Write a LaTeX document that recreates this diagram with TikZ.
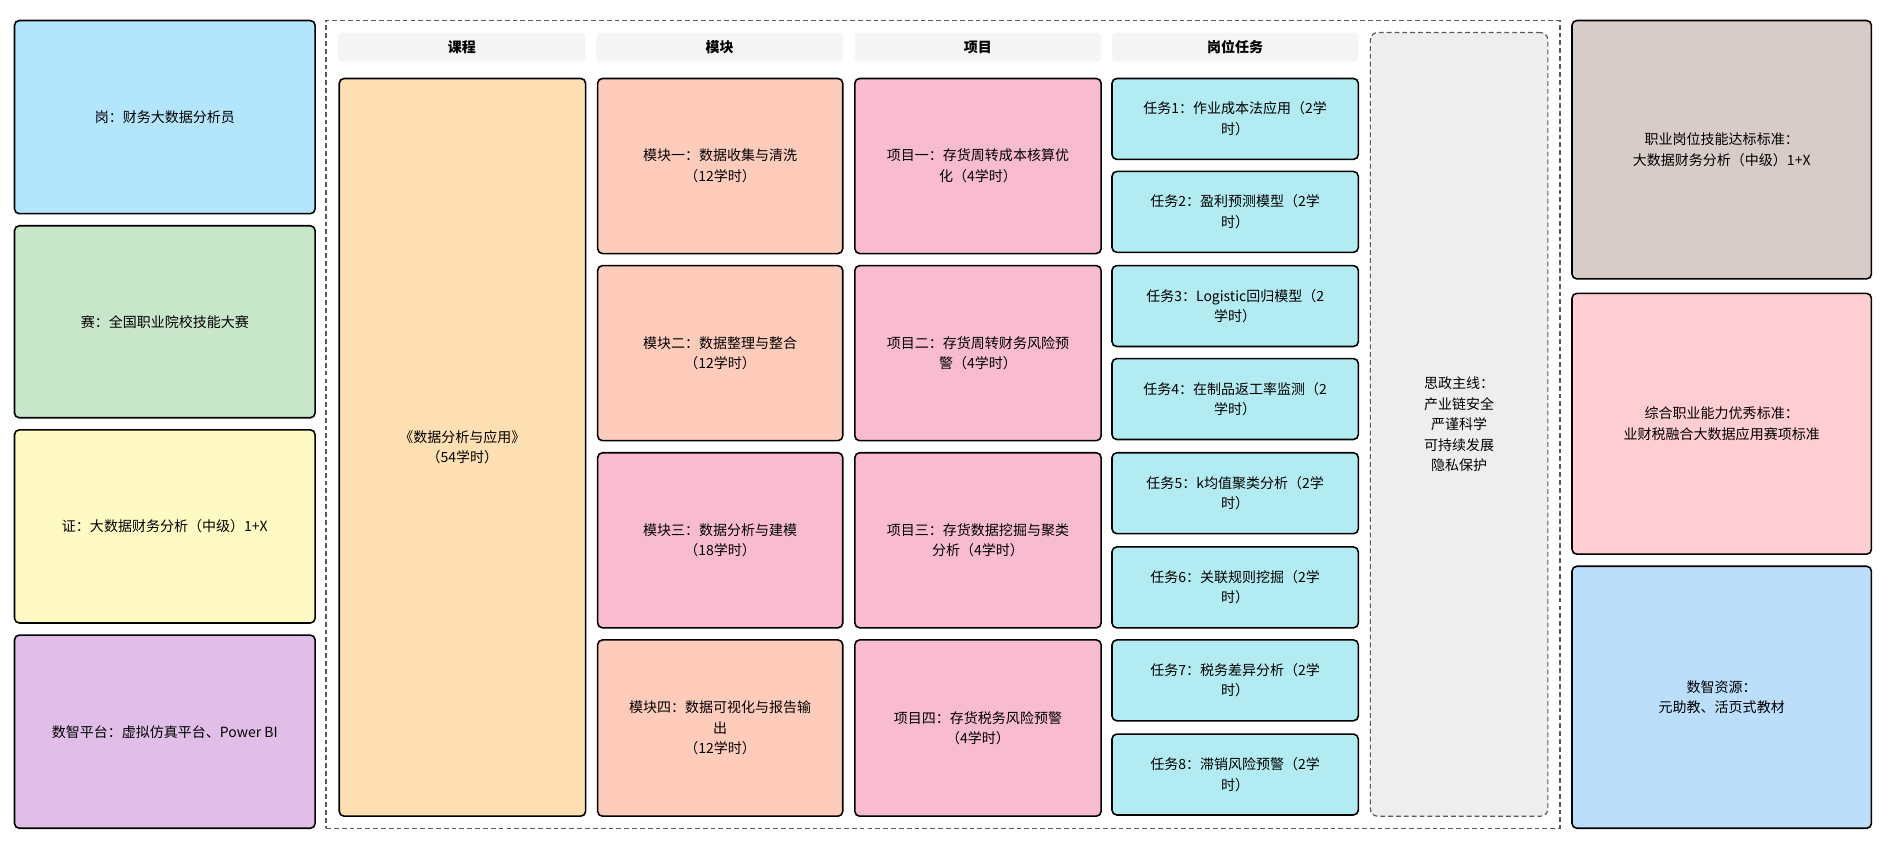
\documentclass[tikz,border=0pt]{standalone}
\usepackage{fontspec}
\setmainfont{Noto Sans CJK SC}
\begin{document}
\begin{tikzpicture}[x=1pt,y=-1pt,
  bx/.style={draw=black,line width=1.3pt,rounded corners=4pt,align=center,font=\fontsize{11.6}{17}\selectfont},
  hd/.style={fill=gray!8,rounded corners=3pt,font=\fontsize{11.6}{14}\selectfont\bfseries},
]
\useasboundingbox (0,0) rectangle (1572,696);
\newcommand{\bxx}[7]{\node[bx,fill=#6,minimum width=#3-#2,minimum height=#5-#4] (#1) at ({(#2+#3)/2},{(#4+#5)/2}) {#7};}
\definecolor{cblue}{HTML}{B3E5FC}\definecolor{cgreen}{HTML}{C8E6C9}\definecolor{cyel}{HTML}{FFF9C4}\definecolor{cpur}{HTML}{E1BEE7}
\definecolor{corange}{HTML}{FFE0B2}\definecolor{csal}{HTML}{FFCCBC}\definecolor{cpink}{HTML}{F8BBD0}\definecolor{ccyan}{HTML}{B2EBF2}
\definecolor{cbrown}{HTML}{D7CCC8}\definecolor{crose}{HTML}{FFCDD2}\definecolor{clb}{HTML}{BBDEFB}
\node[draw=black!65,dash pattern=on 4pt off 2.5pt,line width=1pt,minimum width=1022,minimum height=669] (frame) at (781,351.5) {};
\bxx{L1}{12}{261}{17}{177}{cblue}{岗：财务大数据分析员}
\bxx{L2}{12}{261}{187}{346}{cgreen}{赛：全国职业院校技能大赛}
\bxx{L3}{12}{261}{356}{516}{cyel}{证：大数据财务分析（中级）1+X}
\bxx{L4}{12}{261}{526}{686}{cpur}{数智平台：虚拟仿真平台、Power BI}
\node[hd,minimum width=205,minimum height=24] (h1) at (382.5,39) {课程};
\node[hd,minimum width=204,minimum height=24] (h2) at (596,39) {模块};
\node[hd,minimum width=204,minimum height=24] (h3) at (810,39) {项目};
\node[hd,minimum width=204,minimum height=24] (h4) at (1023,39) {岗位任务};
\bxx{C}{281}{485}{65}{676}{corange}{《数据分析与应用》\\（54学时）}
\bxx{M1}{495}{698}{65}{210}{csal}{模块一：数据收集与清洗\\（12学时）}
\bxx{M2}{495}{698}{220}{365}{csal}{模块二：数据整理与整合\\（12学时）}
\bxx{M3}{495}{698}{375}{520}{cpink}{模块三：数据分析与建模\\（18学时）}
\bxx{M4}{495}{698}{530}{676}{csal}{模块四：数据可视化与报告输\\出\\（12学时）}
\bxx{P1}{708}{912}{65}{210}{cpink}{项目一：存货周转成本核算优\\化（4学时）}
\bxx{P2}{708}{912}{220}{365}{cpink}{项目二：存货周转财务风险预\\警（4学时）}
\bxx{P3}{708}{912}{375}{520}{cpink}{项目三：存货数据挖掘与聚类\\分析（4学时）}
\bxx{P4}{708}{912}{530}{676}{cpink}{项目四：存货税务风险预警\\（4学时）}
\bxx{T1}{921}{1125}{65}{132}{ccyan}{任务1：作业成本法应用（2学\\时）}
\bxx{T2}{921}{1125}{142}{209}{ccyan}{任务2：盈利预测模型（2学\\时）}
\bxx{T3}{921}{1125}{220}{287}{ccyan}{任务3：Logistic回归模型（2\\学时）}
\bxx{T4}{921}{1125}{297}{364}{ccyan}{任务4：在制品返工率监测（2\\学时）}
\bxx{T5}{921}{1125}{375}{442}{ccyan}{任务5：k均值聚类分析（2学\\时）}
\bxx{T6}{921}{1125}{453}{520}{ccyan}{任务6：关联规则挖掘（2学\\时）}
\bxx{T7}{921}{1125}{530}{597}{ccyan}{任务7：税务差异分析（2学\\时）}
\bxx{T8}{921}{1125}{608}{675}{ccyan}{任务8：滞销风险预警（2学\\时）}
\node[draw=black!65,dash pattern=on 4pt off 2.5pt,line width=1pt,fill=gray!13,rounded corners=6pt,align=center,font=\fontsize{11.6}{17}\selectfont,minimum width=147,minimum height=649] (S) at (1208.5,351.5) {思政主线：\\产业链安全\\严谨科学\\可持续发展\\隐私保护};
\bxx{R1}{1302}{1550}{17}{231}{cbrown}{职业岗位技能达标标准：\\大数据财务分析（中级）1+X}
\bxx{R2}{1302}{1550}{243}{459}{crose}{综合职业能力优秀标准：\\业财税融合大数据应用赛项标准}
\bxx{R3}{1302}{1550}{469}{686}{clb}{数智资源：\\元助教、活页式教材}
\end{tikzpicture}
\end{document}
